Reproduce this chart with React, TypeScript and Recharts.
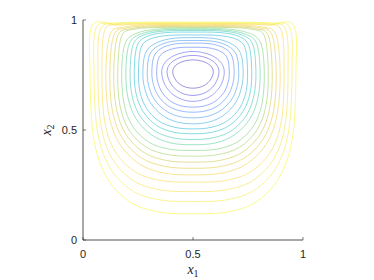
import React from 'react'
import { LineChart, Line, XAxis, YAxis } from 'recharts'

// left half of each streamline, from top centre down to bottom centre (x1, x2)
// the cavity flow is symmetric about x1 = 0.5, the right half is mirrored
const contour01 = [[0.5, 0.819], [0.459, 0.813], [0.428, 0.799], [0.413, 0.783], [0.408, 0.766], [0.411, 0.748], [0.422, 0.726], [0.443, 0.706], [0.47, 0.694], [0.5, 0.69]]
const contour02 = [[0.5, 0.839], [0.447, 0.831], [0.408, 0.812], [0.388, 0.789], [0.382, 0.766], [0.386, 0.74], [0.4, 0.709], [0.427, 0.68], [0.461, 0.663], [0.5, 0.657]]
const contour03 = [[0.5, 0.857], [0.436, 0.847], [0.389, 0.823], [0.365, 0.794], [0.358, 0.766], [0.362, 0.733], [0.379, 0.694], [0.412, 0.659], [0.453, 0.638], [0.5, 0.63]]
const contour04 = [[0.5, 0.876], [0.426, 0.873], [0.371, 0.855], [0.343, 0.824], [0.335, 0.766], [0.34, 0.718], [0.36, 0.67], [0.398, 0.631], [0.446, 0.61], [0.5, 0.604]]
const contour05 = [[0.5, 0.895], [0.416, 0.891], [0.354, 0.87], [0.322, 0.833], [0.313, 0.766], [0.319, 0.711], [0.341, 0.657], [0.384, 0.612], [0.438, 0.588], [0.5, 0.581]]
const contour06 = [[0.5, 0.907], [0.406, 0.903], [0.338, 0.88], [0.302, 0.84], [0.292, 0.766], [0.298, 0.703], [0.323, 0.641], [0.371, 0.591], [0.431, 0.563], [0.5, 0.555]]
const contour07 = [[0.5, 0.92], [0.397, 0.915], [0.322, 0.89], [0.283, 0.847], [0.272, 0.766], [0.279, 0.695], [0.306, 0.625], [0.359, 0.568], [0.425, 0.537], [0.5, 0.528]]
const contour08 = [[0.5, 0.932], [0.388, 0.93], [0.307, 0.914], [0.264, 0.875], [0.252, 0.766], [0.259, 0.674], [0.289, 0.598], [0.346, 0.54], [0.418, 0.512], [0.5, 0.505]]
const contour09 = [[0.5, 0.945], [0.38, 0.943], [0.292, 0.926], [0.246, 0.883], [0.233, 0.766], [0.241, 0.666], [0.273, 0.584], [0.334, 0.521], [0.412, 0.49], [0.5, 0.483]]
const contour10 = [[0.5, 0.952], [0.371, 0.95], [0.277, 0.932], [0.228, 0.888], [0.214, 0.766], [0.223, 0.657], [0.257, 0.567], [0.323, 0.498], [0.406, 0.465], [0.5, 0.457]]
const contour11 = [[0.5, 0.957], [0.363, 0.955], [0.262, 0.936], [0.21, 0.891], [0.195, 0.766], [0.204, 0.649], [0.241, 0.551], [0.311, 0.478], [0.399, 0.441], [0.5, 0.433]]
const contour12 = [[0.5, 0.962], [0.354, 0.96], [0.247, 0.941], [0.192, 0.895], [0.176, 0.766], [0.186, 0.622], [0.225, 0.518], [0.299, 0.445], [0.393, 0.413], [0.5, 0.407]]
const contour13 = [[0.5, 0.966], [0.346, 0.966], [0.233, 0.958], [0.175, 0.926], [0.158, 0.766], [0.168, 0.612], [0.209, 0.5], [0.288, 0.422], [0.387, 0.388], [0.5, 0.381]]
const contour14 = [[0.5, 0.97], [0.338, 0.97], [0.219, 0.961], [0.158, 0.929], [0.14, 0.766], [0.151, 0.601], [0.194, 0.482], [0.277, 0.398], [0.381, 0.361], [0.5, 0.354]]
const contour15 = [[0.5, 0.974], [0.33, 0.974], [0.205, 0.965], [0.141, 0.933], [0.122, 0.766], [0.133, 0.59], [0.179, 0.462], [0.266, 0.373], [0.375, 0.334], [0.5, 0.326]]
const contour16 = [[0.5, 0.978], [0.322, 0.978], [0.191, 0.969], [0.124, 0.936], [0.104, 0.766], [0.116, 0.578], [0.163, 0.442], [0.255, 0.346], [0.369, 0.304], [0.5, 0.296]]
const contour17 = [[0.5, 0.981], [0.314, 0.981], [0.177, 0.977], [0.1, 0.956], [0.086, 0.766], [0.098, 0.543], [0.148, 0.4], [0.243, 0.307], [0.363, 0.269], [0.5, 0.263]]
const contour18 = [[0.5, 0.984], [0.306, 0.984], [0.163, 0.98], [0.08, 0.96], [0.068, 0.766], [0.081, 0.524], [0.133, 0.369], [0.232, 0.268], [0.357, 0.227], [0.5, 0.22]]
const contour19 = [[0.5, 0.987], [0.298, 0.987], [0.149, 0.983], [0.06, 0.965], [0.05, 0.766], [0.064, 0.504], [0.118, 0.336], [0.221, 0.226], [0.352, 0.182], [0.5, 0.175]]
const contour20 = [[0.5, 0.99], [0.289, 0.99], [0.135, 0.986], [0.04, 0.972], [0.032, 0.766], [0.046, 0.479], [0.102, 0.295], [0.21, 0.175], [0.346, 0.127], [0.5, 0.119]]

const contours = [
  contour01, contour02, contour03, contour04, contour05,
  contour06, contour07, contour08, contour09, contour10,
  contour11, contour12, contour13, contour14, contour15,
  contour16, contour17, contour18, contour19, contour20,
]

const axisTicks = [0, 0.5, 1]

// parula, innermost (dark blue) to outermost (yellow)
const parula = [
  '#402eb9', '#453fda', '#4551f0', '#4065fa', '#3879fa',
  '#2d8cf0', '#1f9ee4', '#10add7', '#12b9c4', '#27c2ab',
  '#45c88e', '#6ccb6b', '#97c84d', '#c5c135', '#e4c22b',
  '#f4cb2e', '#fad432', '#f6de36', '#f5e92f', '#f8f51d',
]

const toLoop = (half: number[][]) => {
  const right = half.slice(1, -1).reverse().map(([x, y]) => [1 - x, y])
  return [...half, ...right].map(([x, y]) => ({ x, y }))
}

// closed Catmull-Rom curve so each streamline is a smooth loop
const closedSpline: any = (context: any) => {
  let pts: number[][] = []
  return {
    areaStart() {},
    areaEnd() {},
    lineStart() {
      pts = []
    },
    point(x: number, y: number) {
      pts.push([+x, +y])
    },
    lineEnd() {
      const n = pts.length
      if (!n) return
      context.moveTo(pts[0][0], pts[0][1])
      for (let i = 0; i < n; i++) {
        const p0 = pts[(i - 1 + n) % n]
        const p1 = pts[i]
        const p2 = pts[(i + 1) % n]
        const p3 = pts[(i + 2) % n]
        context.bezierCurveTo(
          p1[0] + (p2[0] - p0[0]) / 6,
          p1[1] + (p2[1] - p0[1]) / 6,
          p2[0] - (p3[0] - p1[0]) / 6,
          p2[1] - (p3[1] - p1[1]) / 6,
          p2[0],
          p2[1],
        )
      }
      context.closePath()
    },
  }
}

const AXIS = '#262626'
const TICK_FONT = '"Liberation Sans", Arial, Helvetica, sans-serif'

const BottomTick = ({ x, y, payload }: any) => (
  <g>
    <line x1={x} y1={y} x2={x} y2={y - 3} stroke={AXIS} strokeWidth={0.6} />
    <text x={x} y={y + 18} textAnchor="middle" fontSize={11} fill={AXIS} fontFamily={TICK_FONT}>
      {String(payload.value)}
    </text>
  </g>
)

const LeftTick = ({ x, y, payload }: any) => (
  <g>
    <line x1={x} y1={y} x2={x + 3} y2={y} stroke={AXIS} strokeWidth={0.6} />
    <text x={x - 6} y={y + 4} textAnchor="end" fontSize={11} fill={AXIS} fontFamily={TICK_FONT}>
      {String(payload.value)}
    </text>
  </g>
)

const TopTick = ({ x, y }: any) => <line x1={x} y1={y} x2={x} y2={y + 3} stroke={AXIS} strokeWidth={0.6} />

const RightTick = ({ x, y }: any) => <line x1={x} y1={y} x2={x - 3} y2={y} stroke={AXIS} strokeWidth={0.6} />

export default function App() {
  return (
    <div style={{ position: 'fixed', left: 0, top: 0, width: 374, height: 280, background: '#fff' }}>
      <LineChart width={374} height={280} margin={{ top: 20, right: 71, bottom: 0, left: 0 }}>
        <XAxis
          dataKey="x"
          type="number"
          domain={[0, 1]}
          allowDataOverflow
          ticks={axisTicks}
          interval={0}
          height={40}
          tickSize={0}
          tickMargin={0}
          tickLine={false}
          axisLine={{ stroke: AXIS, strokeWidth: 0.8 }}
          tick={<BottomTick />}
        />
        <XAxis
          xAxisId="top"
          orientation="top"
          dataKey="x"
          type="number"
          domain={[0, 1]}
          allowDataOverflow
          ticks={axisTicks}
          interval={0}
          height={0}
          tickSize={0}
          tickMargin={0}
          tickLine={false}
          axisLine={{ stroke: AXIS, strokeWidth: 0.8 }}
          tick={<TopTick />}
        />
        <YAxis
          type="number"
          domain={[0, 1]}
          allowDataOverflow
          ticks={axisTicks}
          interval={0}
          width={83}
          tickSize={0}
          tickMargin={0}
          tickLine={false}
          axisLine={{ stroke: AXIS, strokeWidth: 0.8 }}
          tick={<LeftTick />}
        />
        <YAxis
          yAxisId="right"
          orientation="right"
          type="number"
          domain={[0, 1]}
          allowDataOverflow
          ticks={axisTicks}
          interval={0}
          width={0}
          tickSize={0}
          tickMargin={0}
          tickLine={false}
          axisLine={{ stroke: AXIS, strokeWidth: 0.8 }}
          tick={<RightTick />}
        />
        {contours.map((half, i) => (
          <Line
            key={i}
            data={toLoop(half)}
            dataKey="y"
            type={closedSpline}
            stroke={parula[i]}
            strokeWidth={0.6}
            strokeOpacity={0.85}
            dot={false}
            activeDot={false}
            isAnimationActive={false}
          />
        ))}
      </LineChart>
      <svg width={374} height={280} style={{ position: 'absolute', left: 0, top: 0, pointerEvents: 'none' }}>
        <text x={193} y={274} textAnchor="middle" fill={AXIS} fontFamily='"Liberation Serif", "DejaVu Serif", serif' fontSize={14}>
          <tspan fontStyle="italic">x</tspan>
          <tspan fontSize={10} dy={3}>1</tspan>
        </text>
        <text
          x={0}
          y={0}
          transform="translate(51 130) rotate(-90)"
          textAnchor="middle"
          fill={AXIS}
          fontFamily='"Liberation Serif", "DejaVu Serif", serif'
          fontSize={14}
        >
          <tspan fontStyle="italic">x</tspan>
          <tspan fontSize={10} dy={3}>2</tspan>
        </text>
      </svg>
    </div>
  )
}
